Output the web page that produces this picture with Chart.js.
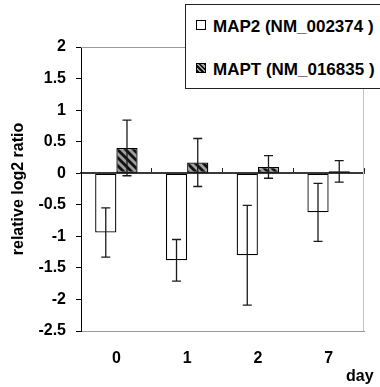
<!DOCTYPE html>
<html>
<head>
<meta charset="utf-8">
<script src="https://cdn.jsdelivr.net/npm/chart.js@4/dist/chart.umd.min.js"></script>
<style>
  html, body { margin: 0; padding: 0; background: #fff; }
  #wrap { position: relative; width: 380px; height: 387px; overflow: hidden; background: #fff; }
  #c { position: absolute; left: 0; top: 0; }
  .legend { position: absolute; left: 185px; top: 4px; width: 220px; height: 85px; border: 1px solid #222; background: #fff; box-sizing: border-box; }
  .item { position: absolute; left: 0; white-space: nowrap; font: bold 17px "Liberation Sans", Arial, sans-serif; line-height: 17px; color: #000; }
  .sw { position: absolute; width: 10px; height: 10px; border: 1px solid #000; box-sizing: border-box; }
  .day { position: absolute; left: 346px; top: 368px; font: bold 16px "Liberation Sans", Arial, sans-serif; line-height: 16px; color: #000; }
</style>
</head>
<body>
<div id="wrap">
  <canvas id="c" width="380" height="387"></canvas>
  <div class="legend" id="legend"></div>
  <div class="day" id="xtitle"></div>
</div>
<script>
// ---- data ----
const days = ['0', '1', '2', '7'];
const seriesNames = ['MAP2 (NM_002374 )', 'MAPT (NM_016835 )'];
const map2 = [-0.94, -1.38, -1.30, -0.62];
const map2Err = [0.39, 0.33, 0.79, 0.46];
const mapt = [0.40, 0.17, 0.10, 0.03];
const maptErr = [0.44, 0.38, 0.18, 0.17];
const yTickLabels = ['-2.5', '-2', '-1.5', '-1', '-0.5', '0', '0.5', '1', '1.5', '2'];
const yMin = -2.5, yMax = 2, yStep = 0.5;
const yTitle = 'relative log2 ratio';
const xTitle = 'day';

// ---- hatch pattern ----
function makeHatch() {
  const s = 8;
  const c = document.createElement('canvas');
  c.width = s; c.height = s;
  const g = c.getContext('2d');
  g.fillStyle = '#a0a0a0';
  g.fillRect(0, 0, s, s);
  g.strokeStyle = '#111';
  g.lineWidth = 2.8;
  for (let k = -1; k <= 1; k++) {
    g.beginPath();
    g.moveTo(k * s - 1, -1);
    g.lineTo(k * s + s + 1, s + 1);
    g.stroke();
  }
  return document.getElementById('c').getContext('2d').createPattern(c, 'repeat');
}
const hatch = makeHatch();

const FONT = '"Liberation Sans", Arial, sans-serif';
const errs = [map2Err, maptErr];

const errorBars = {
  id: 'errorBars',
  afterDatasetsDraw(chart) {
    const ctx = chart.ctx;
    const ys = chart.scales.y;
    ctx.save();
    ctx.strokeStyle = '#1a1a1a';
    ctx.lineWidth = 1.3;
    chart.data.datasets.forEach((ds, i) => {
      const meta = chart.getDatasetMeta(i);
      meta.data.forEach((bar, j) => {
        const v = ds.data[j], e = errs[i][j];
        const x = bar.x;
        const yt = ys.getPixelForValue(v + e);
        const yb = ys.getPixelForValue(v - e);
        const hw = 4.5;
        ctx.beginPath();
        ctx.moveTo(x, yt); ctx.lineTo(x, yb);
        ctx.moveTo(x - hw, yt); ctx.lineTo(x + hw, yt);
        ctx.moveTo(x - hw, yb); ctx.lineTo(x + hw, yb);
        ctx.stroke();
      });
    });
    ctx.restore();
  }
};

const frame = {
  id: 'frame',
  beforeDatasetsDraw(chart) {
    const {ctx, chartArea: a} = chart;
    ctx.save();
    ctx.lineWidth = 1;
    ctx.strokeStyle = '#9a9a9a';
    ctx.beginPath(); ctx.moveTo(a.left, a.top + 0.5); ctx.lineTo(a.right, a.top + 0.5); ctx.stroke();
    ctx.strokeStyle = '#c4c4c4';
    ctx.beginPath(); ctx.moveTo(a.right - 0.5, a.top); ctx.lineTo(a.right - 0.5, a.bottom); ctx.stroke();
    ctx.restore();
  }
};

new Chart(document.getElementById('c'), {
  type: 'bar',
  data: {
    labels: days,
    datasets: [
      { label: seriesNames[0], data: map2, backgroundColor: '#ffffff', borderColor: '#000', borderWidth: 1.3, borderSkipped: false },
      { label: seriesNames[1], data: mapt, backgroundColor: hatch, borderColor: '#000', borderWidth: 1.3, borderSkipped: false }
    ]
  },
  options: {
    responsive: false,
    animation: false,
    events: [],
    layout: { padding: { top: 47, right: 16, left: 0, bottom: 0 } },
    datasets: { bar: { categoryPercentage: 0.6, barPercentage: 1.0 } },
    plugins: { legend: { display: false }, tooltip: { enabled: false } },
    scales: {
      x: {
        type: 'category', position: 'bottom', offset: true,
        grid: { display: false, drawTicks: false },
        border: { display: true, color: '#9a9a9a', width: 1 },
        ticks: { font: { family: FONT, size: 16, weight: 'bold' }, color: '#000', padding: 18 },
        afterFit: s => { s.height = 56; }
      },
      x2: {
        type: 'category', labels: days, position: { y: 0 }, offset: true,
        grid: { offset: true, drawOnChartArea: false, drawTicks: true, tickLength: -6, color: '#222', lineWidth: 1 },
        border: { display: true, color: '#3a3a3a', width: 2 },
        ticks: { display: false }
      },
      y: {
        min: yMin, max: yMax,
        ticks: {
          stepSize: yStep, padding: 10, color: '#000',
          font: { family: FONT, size: 16, weight: 'bold' },
          callback: (v) => yTickLabels[Math.round((v - yMin) / yStep)]
        },
        grid: { drawOnChartArea: false, drawTicks: true, tickLength: 5, color: '#000', lineWidth: 1 },
        border: { display: true, color: '#000', width: 1 },
        title: { display: true, text: yTitle, color: '#000', font: { family: FONT, size: 16, weight: 'bold' }, padding: { top: 9, bottom: 0 } },
        afterFit: s => { s.width = 81; }
      }
    }
  },
  plugins: [frame, errorBars]
});

// ---- legend (HTML) ----
const leg = document.getElementById('legend');
const itemTops = [13, 56];
const swTops = [15, 58];
seriesNames.forEach((name, i) => {
  const sw = document.createElement('div');
  sw.className = 'sw';
  sw.style.left = '10px';
  sw.style.top = swTops[i] + 'px';
  sw.style.background = i === 0 ? '#fff' : 'repeating-linear-gradient(45deg, #111 0 1.6px, #a0a0a0 1.6px 3.4px)';
  leg.appendChild(sw);
  const t = document.createElement('div');
  t.className = 'item';
  t.style.left = '27px';
  t.style.top = itemTops[i] + 'px';
  t.textContent = name;
  leg.appendChild(t);
});
document.getElementById('xtitle').textContent = xTitle;
</script>
</body>
</html>
